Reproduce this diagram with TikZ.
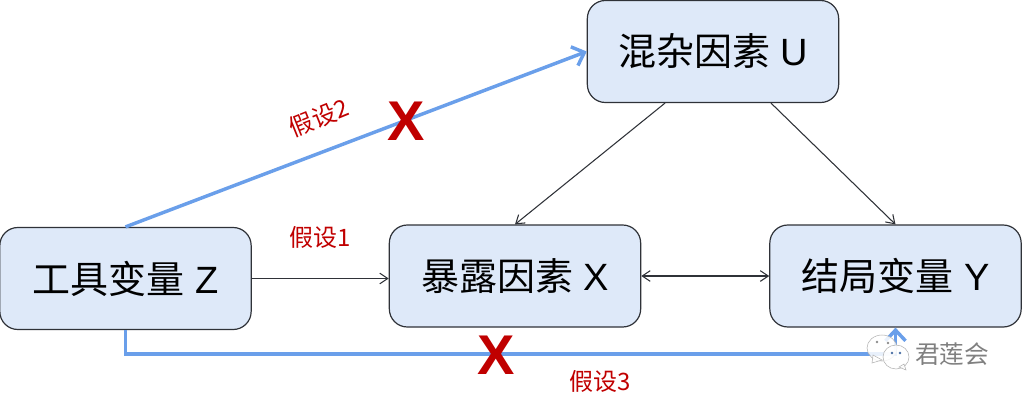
\documentclass[tikz,border=0pt]{standalone}
\usepackage{fontspec}
\setmainfont{Liberation Sans}
\newfontfamily\cjk{Noto Sans CJK SC}
\usetikzlibrary{arrows.meta,calc}
\definecolor{boxfill}{HTML}{DEE9F9}
\definecolor{boxline}{HTML}{2F3238}
\definecolor{bluearrow}{HTML}{6A9FEA}
\definecolor{redmark}{HTML}{C00000}
\tikzset{
  varbox/.style={draw=boxline,line width=0.9pt,fill=boxfill,rounded corners=13.5pt,minimum width=188.5pt,minimum height=76.5pt,inner sep=0pt,font=\fontsize{28.5}{30}\selectfont},
  thinarrow/.style={draw=boxline,line width=0.8pt,-{Straight Barb[length=6pt,width=8pt,line width=0.8pt]}},
  thinboth/.style={draw=boxline,line width=0.8pt,{Straight Barb[length=6pt,width=8pt,line width=0.8pt]}-{Straight Barb[length=6pt,width=8pt,line width=0.8pt]}},
  bluepath/.style={draw=bluearrow,line width=2.6pt,-{Straight Barb[length=8pt,width=15pt,line width=2.6pt]}},
  hyp/.style={text=redmark,inner sep=0pt,font=\cjk\fontsize{18}{20}\selectfont},
  cross/.style={text=redmark,inner sep=0pt,font=\fontsize{42}{44}\selectfont\bfseries},
  wmtext/.style={text=black!50,inner sep=0pt,font=\cjk\fontsize{18.5}{20}\selectfont},
  bubble/.style={draw=black!30,fill=white,fill opacity=0.85,line width=0.4pt}
}
\begin{document}
\begin{tikzpicture}[x=0.75pt,y=-0.75pt]
\useasboundingbox (0,0) rectangle (1024,400);
\node[varbox] (U) at (713,51.5) {{\cjk 混杂因素} U};
\node[varbox] (Z) at (125.5,278.5) {{\cjk 工具变量} Z};
\node[varbox] (X) at (515,276) {{\cjk 暴露因素} X};
\node[varbox] (Y) at (895.5,276) {{\cjk 结局变量} Y};
\coordinate (Uleft) at ($(U.south)+(-48,0)$);
\coordinate (Uright) at ($(U.south)+(58,0)$);
\coordinate (Ubend) at (125.5,354);
\coordinate (Ybend) at (895.5,354);
% thin connectors
\draw[thinarrow] (Uleft) -- (X.north);
\draw[thinarrow] (Uright) -- (Y.north);
\draw[thinarrow] (Z.east) -- (Z.east -| X.west);
\draw[thinboth] (X.east) -- (Y.west);
% blue connectors
\draw[bluepath] (Z.north) -- (U.west);
\draw[bluepath] (Z.south) -- (Ubend) -- (Ybend) -- (Y.south);
% labels
\node[hyp,rotate=22] (h2) at (319,118) {假设2};
\node[hyp] (h1) at (320,237) {假设1};
\node[hyp] (h3) at (600,381) {假设3};
\node[cross] (c1) at (406,121) {X};
\node[cross] (c2) at (496,355) {X};
% watermark
\path[bubble] (882,348) ellipse (15 and 13);
\path[bubble] (873,355) -- (872,363) -- (882,360) -- cycle;
\path[bubble] (896,357) ellipse (13 and 12);
\path[bubble] (899,367) -- (906,370) -- (904,364) -- cycle;
\fill[black!45] (877,342) circle (1.3) (888,343) circle (1.3);
\fill[bluearrow!70!black] (892,353) circle (1.3) (900,353) circle (1.3);
\node[wmtext] (wm) at (952,354) {君莲会};
\end{tikzpicture}
\end{document}
